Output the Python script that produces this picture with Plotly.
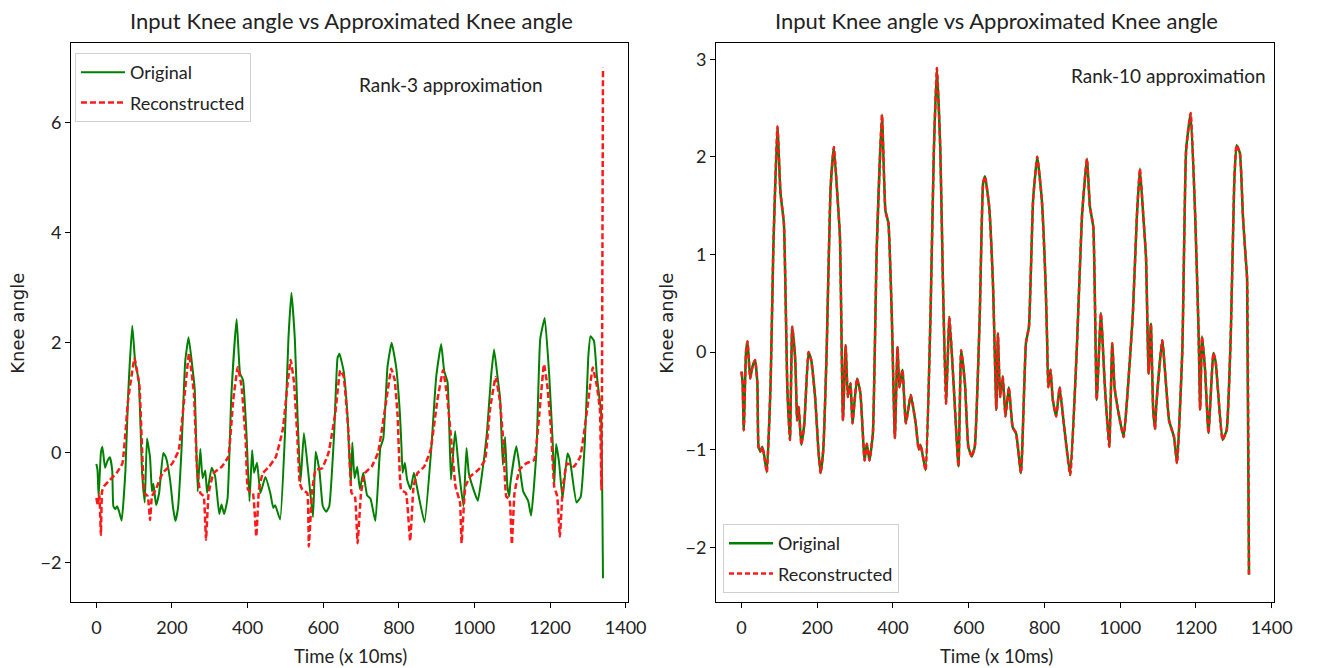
import plotly.graph_objects as go

# Knee angle samples (time index in units of 10 ms)
time_orig = [0, 3, 6, 12, 16, 23, 29, 36, 42, 45, 50, 55, 60, 67, 77, 84, 95, 103, 112, 119,
             121, 128, 134, 142, 147, 151, 158, 166, 177, 184, 195, 203, 209, 216, 225, 235,
             244, 254, 260, 268, 275, 281, 288, 293, 305, 314, 325, 331, 338, 347, 357, 371,
             380, 388, 397, 405, 412, 417, 425, 434, 447, 460, 468, 473, 486, 499, 508, 516,
             525, 532, 540, 549, 560, 573, 580, 590, 599, 608, 616, 629, 638, 643, 654, 664,
             673, 677, 683, 690, 697, 706, 716, 725, 738, 751, 759, 770, 781, 793, 803, 807,
             810, 816, 822, 831, 840, 851, 868, 886, 899, 912, 920, 929, 938, 949, 959, 971,
             979, 985, 994, 1009, 1018, 1033, 1044, 1052, 1061, 1068, 1075, 1081, 1087, 1092,
             1095, 1111, 1129, 1142, 1150, 1164, 1174, 1186, 1198, 1207, 1211, 1216, 1224,
             1233, 1246, 1252, 1270, 1281, 1292, 1301, 1307, 1316, 1324, 1331, 1335, 1340]
knee_orig = [-0.20, -0.31, -0.80, 0.00, 0.11, -0.27, -0.15, -0.08, -0.32, -0.97, -1.02, -0.97,
             -1.06, -1.23, -0.31, 1.04, 2.31, 1.63, 1.32, 0.02, -0.36, -0.90, 0.26, -0.08,
             -0.70, -0.56, -0.95, -0.73, 0.00, -0.08, -0.49, -1.00, -1.24, -1.00, 0.02, 1.66,
             2.10, 1.56, 1.18, -0.70, 0.07, -0.46, -0.32, -0.73, -0.27, -0.42, -1.11, -0.94,
             -1.11, -0.83, 1.04, 2.43, 1.45, 1.32, 0.36, -0.88, 0.05, -0.36, -0.18, -0.73,
             -0.44, -0.73, -1.00, -0.95, -1.21, 0.36, 2.07, 2.91, 2.07, 0.70, -0.53, 0.36,
             -0.32, -1.17, 0.02, -0.32, -0.97, -1.07, -0.97, 0.36, 1.73, 1.80, 1.49, 0.70,
             -0.59, 0.19, -0.46, -0.25, -0.66, -0.36, -0.77, -0.83, -1.24, 0.09, 0.26, 1.56,
             2.00, 1.56, 0.70, 0.12, -0.36, -0.18, -0.49, -0.66, -0.36, -0.73, -1.26, 0.09,
             1.39, 1.98, 1.49, 1.28, -0.49, 0.40, -0.32, -0.97, 0.09, -0.36, -0.59, -0.87,
             -0.49, 0.36, 1.39, 1.88, 1.39, 0.98, -0.22, 0.29, -0.59, -0.79, -0.56, 0.12,
             -0.70, -0.87, -1.14, 0.02, 2.07, 2.45, 1.39, 0.19, -0.59, 0.16, -0.18, -0.83,
             -0.01, -0.10, -0.90, -0.80, 0.19, 1.73, 2.12, 2.04, 1.39, 0.98, 0.75, -2.28]

# Rank-3 reconstruction
time_rank3 = [0, 4, 8, 12, 15, 20, 36, 53, 69, 84, 101, 114, 121, 127, 136, 142, 147, 157,
              175, 201, 218, 232, 245, 258, 266, 275, 284, 290, 297, 310, 332, 349, 362, 374,
              384, 395, 401, 414, 423, 430, 440, 457, 475, 493, 506, 514, 523, 532, 538, 545,
              558, 562, 571, 580, 597, 614, 632, 645, 654, 667, 675, 684, 691, 700, 710, 728,
              745, 767, 780, 789, 797, 806, 819, 830, 839, 849, 867, 884, 902, 917, 928, 937,
              950, 962, 966, 976, 989, 1010, 1028, 1041, 1056, 1067, 1076, 1084, 1093, 1099,
              1106, 1119, 1137, 1158, 1171, 1184, 1193, 1202, 1211, 1219, 1226, 1234, 1245,
              1263, 1280, 1298, 1313, 1324, 1332, 1336, 1340]
knee_rank3 = [-0.82, -0.95, -0.75, -1.49, -0.70, -0.61, -0.49, -0.37, -0.19, 0.96, 1.72, 1.21,
              0.05, -0.73, -0.79, -1.22, -0.79, -0.67, -0.37, -0.19, 0.05, 0.96, 1.80, 1.09,
              -0.25, -0.73, -0.79, -1.58, -0.73, -0.37, -0.25, -0.07, 0.96, 1.56, 1.21, 0.24,
              -0.67, -0.73, -1.52, -0.67, -0.37, -0.25, -0.07, 0.42, 1.27, 1.69, 1.27, 0.24,
              -0.55, -0.67, -0.73, -1.70, -0.67, -0.31, -0.28, 0.00, 0.72, 1.50, 1.39, 0.36,
              -0.73, -0.79, -1.64, -0.73, -0.37, -0.25, 0.00, 0.96, 1.53, 1.33, 0.66, -0.67,
              -0.73, -1.60, -0.61, -0.37, -0.25, 0.05, 0.96, 1.50, 1.02, 0.36, -0.61, -0.91,
              -1.64, -0.61, -0.43, -0.31, -0.13, 0.78, 1.38, 0.96, 0.24, -0.79, -0.85, -1.66,
              -0.73, -0.31, -0.19, -0.13, 0.66, 1.61, 1.21, 0.48, -0.61, -0.79, -1.52, -0.61,
              -0.19, -0.25, -0.07, 0.78, 1.55, 1.21, 0.78, -0.67, 7.00]

# Rank-10 reconstruction follows the input to within the line width
time_rank10 = list(time_orig)
knee_rank10 = list(knee_orig)

x_ticks = [0, 200, 400, 600, 800, 1000, 1200, 1400]
y_ticks_left = [-2, 0, 2, 4, 6]
y_ticks_right = [-2, -1, 0, 1, 2, 3]

GREEN = "#008000"
RED = "#ff1a1a"
TEXT = "#222222"
FONT = "Lato, Open Sans, sans-serif"
W, H = 1319, 668


def px(x):
    return x / W


def py(y):
    return 1 - y / H


fig = go.Figure()

fig.add_trace(go.Scatter(x=time_orig, y=knee_orig, mode="lines", name="Original",
                         line=dict(color=GREEN, width=2, shape="spline", smoothing=0.4),
                         xaxis="x", yaxis="y", legend="legend", legendgroup="a"))
fig.add_trace(go.Scatter(x=time_rank3, y=knee_rank3, mode="lines", name="Reconstructed",
                         line=dict(color=RED, width=2.5, dash="6px,3px",
                                   shape="spline", smoothing=0.3),
                         xaxis="x", yaxis="y", legend="legend", legendgroup="b"))
fig.add_trace(go.Scatter(x=time_orig, y=knee_orig, mode="lines", name="Original",
                         line=dict(color=GREEN, width=2.5, shape="spline", smoothing=0.4),
                         xaxis="x2", yaxis="y2", legend="legend2", legendgroup="c"))
fig.add_trace(go.Scatter(x=time_rank10, y=knee_rank10, mode="lines", name="Reconstructed",
                         line=dict(color=RED, width=2.5, dash="5px,3px",
                                   shape="spline", smoothing=0.4),
                         xaxis="x2", yaxis="y2", legend="legend2", legendgroup="d"))

axis_common = dict(showgrid=False, zeroline=False, showline=True, mirror=True,
                   linecolor="black", linewidth=1, ticks="outside", ticklen=5,
                   tickcolor="black", tickfont=dict(family=FONT, size=18, color=TEXT))

y_dom = [py(602), py(43)]
legend_common = dict(bgcolor="rgba(255,255,255,0.8)", bordercolor="#d0d0d0", borderwidth=1,
                     font=dict(family=FONT, size=18, color=TEXT), tracegroupgap=4,
                     itemwidth=44)
fig.update_layout(
    width=W, height=H,
    margin=dict(l=0, r=0, t=0, b=0),
    paper_bgcolor="white", plot_bgcolor="white",
    xaxis=dict(domain=[px(72), px(637)], range=[-67, 1407], tickvals=x_ticks,
               anchor="y", ticklabelstandoff=4, **axis_common),
    yaxis=dict(domain=y_dom, range=[-2.71, 7.45], tickvals=y_ticks_left,
               anchor="x", **axis_common),
    xaxis2=dict(domain=[px(726), px(1292)], range=[-67, 1407], tickvals=x_ticks,
                anchor="y2", ticklabelstandoff=4, **axis_common),
    yaxis2=dict(domain=y_dom, range=[-2.56, 3.166], tickvals=y_ticks_right,
                anchor="x2", **axis_common),
    legend=dict(x=px(76), y=py(53), xanchor="left", yanchor="top", **legend_common),
    legend2=dict(x=px(733), y=py(593), xanchor="left", yanchor="bottom", **legend_common),
    showlegend=True,
)

title = "Input Knee angle vs Approximated Knee angle"
notes = [
    dict(text=title, x=px(356), y=py(20), size=22),
    dict(text=title, x=px(1010), y=py(20), size=22),
    dict(text="Rank-3 approximation", x=px(457), y=py(85), size=19),
    dict(text="Time (x 10ms)", x=px(355), y=py(656), size=18.5),
    dict(text="Time (x 10ms)", x=px(1010), y=py(656), size=18.5),
]
for n in notes:
    fig.add_annotation(text=n["text"], x=n["x"], y=n["y"], xref="paper", yref="paper",
                       xanchor="center", yanchor="middle", showarrow=False,
                       font=dict(family=FONT, size=n["size"], color=TEXT))

fig.add_annotation(text="Rank-10 approximation", x=px(1286), y=py(75), xref="paper",
                   yref="paper", xanchor="right", yanchor="middle", showarrow=False,
                   font=dict(family=FONT, size=19, color=TEXT))

for xpos in (18, 676):
    fig.add_annotation(text="Knee angle", x=px(xpos), y=py(323), xref="paper", yref="paper",
                       xanchor="center", yanchor="middle", showarrow=False, textangle=-90,
                       font=dict(family="DejaVu Sans", size=18, color=TEXT))

fig.write_html("out.html")
